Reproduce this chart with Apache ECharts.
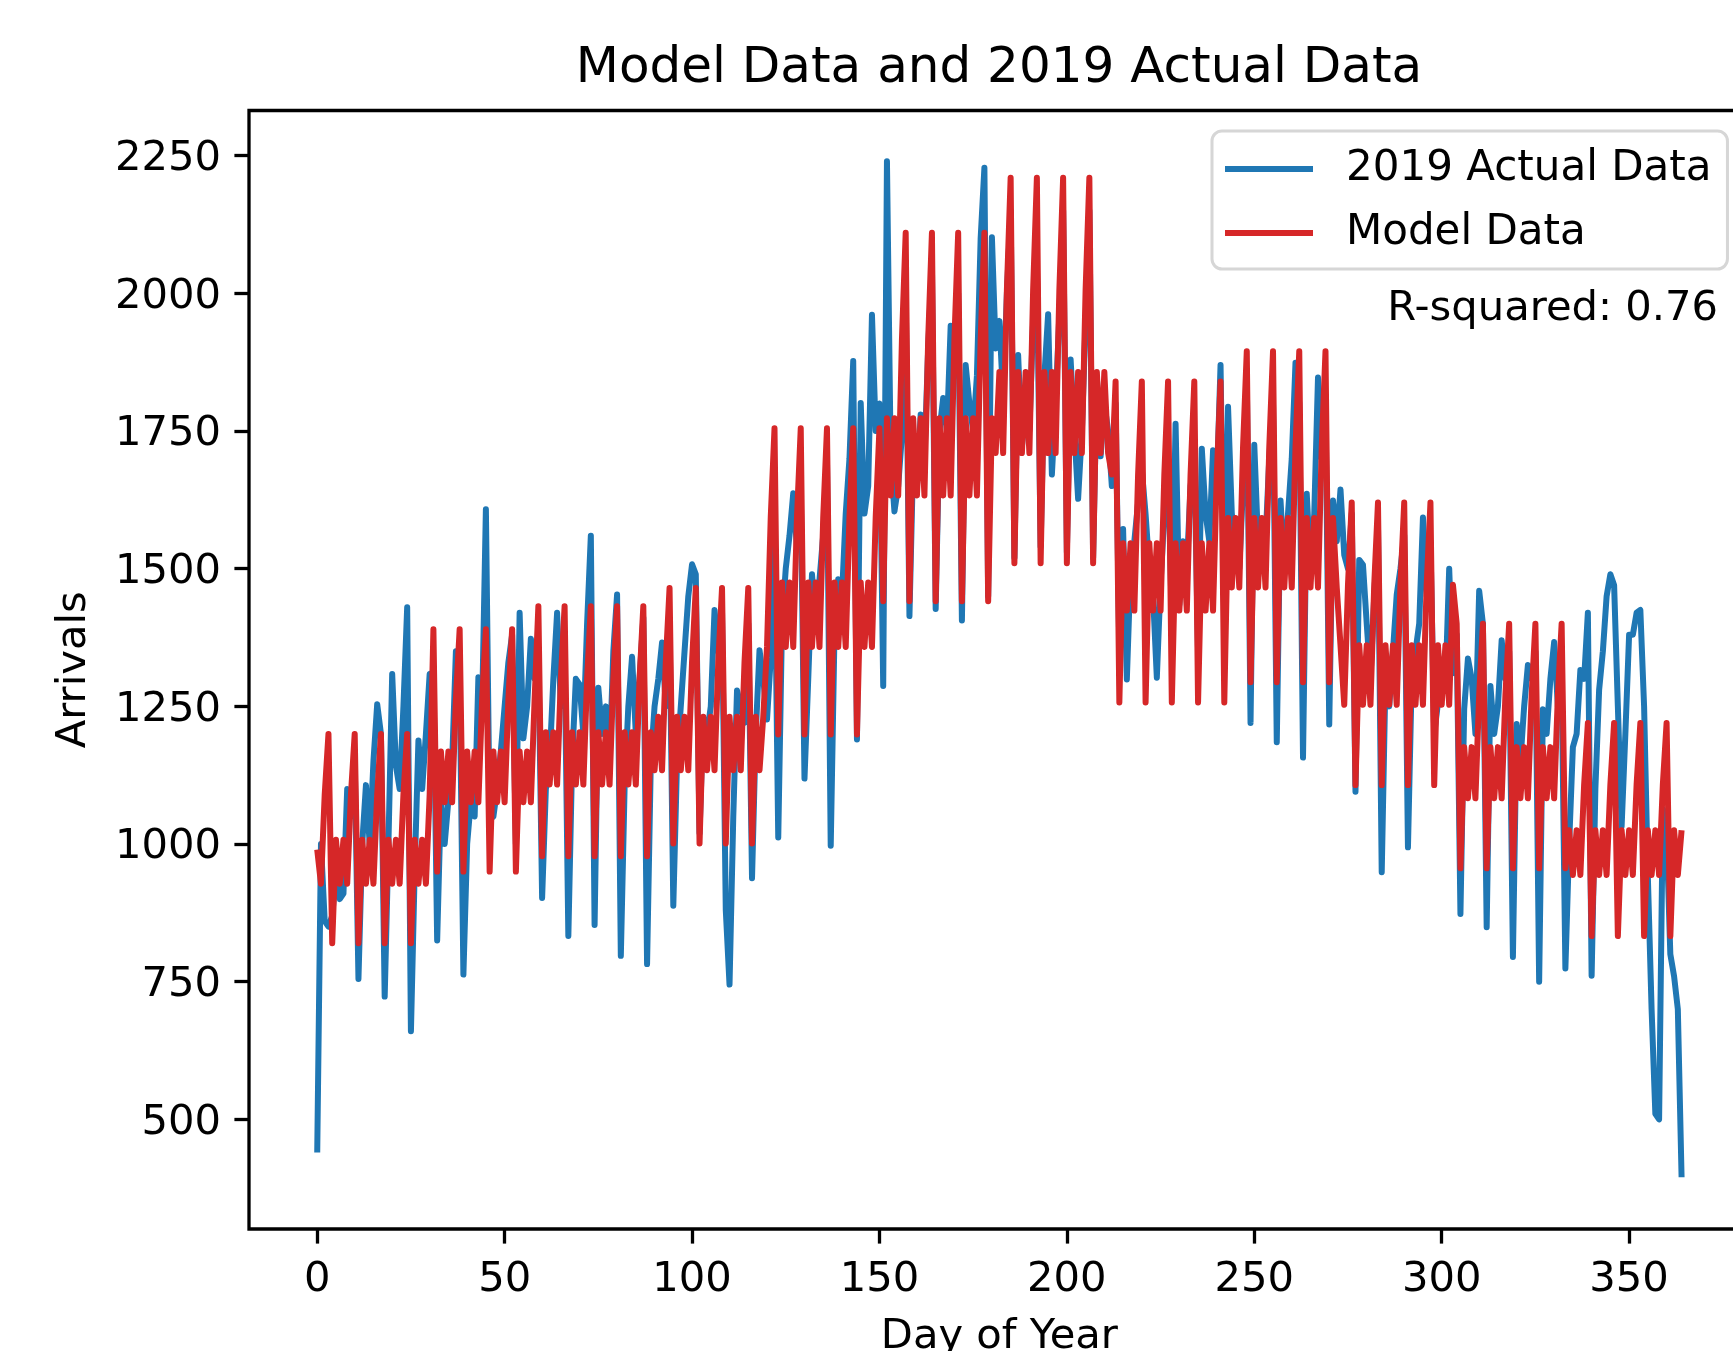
<!DOCTYPE html>
<html>
<head>
<meta charset="utf-8">
<title>Model Data and 2019 Actual Data</title>
<script src="https://cdn.jsdelivr.net/npm/echarts@6/dist/echarts.min.js"></script>
<style>
  html, body { margin: 0; padding: 0; background: #fff; }
  #main { width: 1733px; height: 1351px; }
</style>
</head>
<body>
<div id="main"></div>
<script>
// daily arrivals, day 0 = 1 Jan 2019 (one row per month)
const actual = [
  440, 1000, 860, 850, 870, 950, 900, 910, 1100, 1050, 1150, 755, 1000, 1107, 1000, 1150, 1254, 1200, 723, 1000, 1309, 1142, 1100, 1250, 1430, 660, 950, 1188, 1100, 1200, 1309,
  1311, 825, 1080, 1000, 1080, 1150, 1350, 1300, 763, 1000, 1080, 1050, 1303, 1250, 1608, 1044, 1050, 1100, 1170, 1250, 1330, 1380, 1000, 1420, 1192, 1250, 1373, 1300,
  1350, 902, 1100, 1150, 1300, 1420, 1250, 1350, 833, 1150, 1300, 1290, 1200, 1400, 1560, 853, 1284, 1200, 1250, 1150, 1350, 1453, 797, 1100, 1250, 1340, 1200, 1300, 1411, 782, 1150,
  1250, 1300, 1366, 1250, 1400, 888, 1150, 1250, 1350, 1450, 1508, 1490, 1020, 1230, 1200, 1250, 1425, 1350, 1420, 880, 745, 1050, 1279, 1250, 1220, 1400, 938, 1200, 1352, 1300,
  1226, 1338, 1550, 1012, 1400, 1500, 1560, 1637, 1536, 1650, 1119, 1300, 1490, 1400, 1480, 1561, 1700, 997, 1380, 1481, 1450, 1600, 1700, 1877, 1190, 1801, 1600, 1650, 1961, 1750, 1800,
  1287, 2240, 1700, 1604, 1650, 1743, 2000, 1414, 1700, 1650, 1780, 1700, 1900, 2050, 1427, 1750, 1810, 1750, 1941, 1850, 2000, 1406, 1870, 1800, 1750, 1850, 2100, 2228, 1450, 2102,
  1900, 1950, 1810, 2000, 2150, 1520, 1888, 1721, 1800, 1750, 1950, 2059, 1540, 1850, 1962, 1671, 1800, 1962, 2150, 1530, 1880, 1750, 1627, 1750, 1950, 2150, 1520, 1848, 1704, 1800, 1750,
  1650, 1800, 1350, 1572, 1299, 1500, 1550, 1620, 1680, 1599, 1500, 1450, 1302, 1474, 1600, 1700, 1400, 1763, 1435, 1550, 1500, 1650, 1700, 1350, 1718, 1600, 1550, 1715, 1650, 1870, 1400,
  1794, 1600, 1550, 1500, 1650, 1850, 1220, 1725, 1550, 1500, 1550, 1700, 1800, 1185, 1624, 1500, 1600, 1700, 1874, 1800, 1157, 1636, 1500, 1600, 1847, 1700, 1800, 1217, 1624, 1550,
  1644, 1525, 1500, 1600, 1095, 1516, 1507, 1400, 1300, 1450, 1580, 949, 1300, 1250, 1350, 1453, 1500, 1560, 994, 1300, 1350, 1400, 1593, 1450, 1550, 1200, 1256, 1300, 1286, 1500, 1310,
  1380, 873, 1245, 1337, 1300, 1200, 1460, 1400, 849, 1287, 1200, 1250, 1370, 1300, 1350, 795, 1218, 1150, 1250, 1325, 1300, 1350, 750, 1245, 1200, 1300, 1367, 1250, 1300, 774,
  1000, 1176, 1200, 1316, 1300, 1420, 761, 1100, 1280, 1350, 1450, 1490, 1470, 1250, 1032, 1200, 1380, 1380, 1420, 1425, 1250, 941, 700, 510, 500, 1064, 1020, 800, 760, 700, 395
];

const model = [
  990, 928, 1090, 1200, 820, 1008, 928, 1008, 928, 1090, 1200, 820, 1008, 928, 1008, 928, 1090, 1200, 820, 1008, 928, 1008, 928, 1090, 1200, 820, 1008, 928, 1008, 928, 1090,
  1390, 950, 1168, 1076, 1168, 1076, 1263, 1390, 950, 1168, 1076, 1168, 1076, 1263, 1390, 950, 1168, 1076, 1168, 1076, 1263, 1390, 950, 1168, 1076, 1168, 1076, 1263,
  1432, 978, 1203, 1108, 1203, 1108, 1300, 1432, 978, 1203, 1108, 1203, 1108, 1300, 1432, 978, 1203, 1108, 1203, 1108, 1300, 1432, 978, 1203, 1108, 1203, 1108, 1300, 1432, 978, 1203,
  1134, 1231, 1134, 1331, 1465, 1001, 1231, 1134, 1231, 1134, 1331, 1465, 1001, 1231, 1134, 1231, 1134, 1331, 1465, 1001, 1231, 1134, 1231, 1134, 1331, 1465, 1001, 1231, 1134, 1231,
  1358, 1594, 1755, 1199, 1475, 1358, 1475, 1358, 1594, 1755, 1199, 1475, 1358, 1475, 1358, 1594, 1755, 1199, 1475, 1358, 1475, 1358, 1594, 1755, 1199, 1475, 1358, 1475, 1358, 1594, 1755,
  1441, 1773, 1633, 1773, 1633, 1917, 2110, 1441, 1773, 1633, 1773, 1633, 1917, 2110, 1441, 1773, 1633, 1773, 1633, 1917, 2110, 1441, 1773, 1633, 1773, 1633, 1917, 2110, 1441, 1773,
  1710, 1857, 1710, 2007, 2210, 1510, 1857, 1710, 1857, 1710, 2007, 2210, 1510, 1857, 1710, 1857, 1710, 2007, 2210, 1510, 1857, 1710, 1857, 1710, 2007, 2210, 1510, 1857, 1710, 1857, 1710,
  1671, 1840, 1257, 1546, 1424, 1546, 1424, 1671, 1840, 1257, 1546, 1424, 1546, 1424, 1671, 1840, 1257, 1546, 1424, 1546, 1424, 1671, 1840, 1257, 1546, 1424, 1546, 1424, 1671, 1840, 1257,
  1592, 1466, 1592, 1466, 1721, 1895, 1294, 1592, 1466, 1592, 1466, 1721, 1895, 1294, 1592, 1466, 1592, 1466, 1721, 1895, 1294, 1592, 1466, 1592, 1466, 1721, 1895, 1294, 1592, 1466,
  1361, 1253, 1471, 1620, 1107, 1361, 1253, 1361, 1253, 1471, 1620, 1107, 1361, 1253, 1361, 1253, 1471, 1620, 1107, 1361, 1253, 1361, 1253, 1471, 1620, 1107, 1361, 1253, 1361, 1253, 1471,
  1400, 956, 1176, 1083, 1176, 1083, 1271, 1400, 956, 1176, 1083, 1176, 1083, 1271, 1400, 956, 1176, 1083, 1176, 1083, 1271, 1400, 956, 1176, 1083, 1176, 1083, 1271, 1400, 956,
  1025, 944, 1025, 944, 1108, 1220, 833, 1025, 944, 1025, 944, 1108, 1220, 833, 1025, 944, 1025, 944, 1108, 1220, 833, 1025, 944, 1025, 944, 1108, 1220, 833, 1025, 944, 1025
];

const xTicks = [0, 50, 100, 150, 200, 250, 300, 350];
const yTicks = [500, 750, 1000, 1250, 1500, 1750, 2000, 2250];

const blue = '#1f77b4';
const red = '#d62728';
const font = 'DejaVu Sans';

const chart = echarts.init(document.getElementById('main'));

// pair each value with its day index
const toPairs = vals => vals.map((v, i) => [i, v]);

const option = {
  animation: false,
  textStyle: { fontFamily: font },
  grid: {
    left: 249, top: 110.5, width: 1500.8, height: 1118.5,
    outerBoundsMode: 'none', containLabel: false,
    show: true, borderColor: '#000', borderWidth: 3.3,
    backgroundColor: 'transparent'
  },
  legend: {
    orient: 'vertical',
    left: 1212, top: 131,
    padding: [14, 16, 12, 13],
    itemGap: 16, itemWidth: 88, itemHeight: 6,
    icon: 'rect',
    backgroundColor: '#fff', borderColor: '#d6d6d6', borderWidth: 3, borderRadius: 10,
    textStyle: { fontSize: 42, color: '#000', fontFamily: font, lineHeight: 48, padding: [0, 0, 0, 28] },
    data: ['2019 Actual Data', 'Model Data']
  },
  xAxis: {
    type: 'value', min: -18.2, max: 382.2,
    axisLine: { show: false, onZero: false },
    splitLine: { show: false },
    axisTick: { show: true, customValues: xTicks, length: 14.6, lineStyle: { color: '#000', width: 3.3 } },
    axisLabel: { customValues: xTicks, fontSize: 41.67, color: '#000', margin: 30, fontFamily: font, formatter: v => String(v) },
    name: 'Day of Year', nameLocation: 'middle', nameGap: 87,
    nameTextStyle: { fontSize: 41.67, color: '#000', fontFamily: font }
  },
  yAxis: {
    type: 'value', min: 301, max: 2332,
    axisLine: { show: false, onZero: false },
    splitLine: { show: false },
    axisTick: { show: true, customValues: yTicks, length: 14.6, lineStyle: { color: '#000', width: 3.3 } },
    axisLabel: {
      customValues: yTicks, color: '#000', margin: 28,
      formatter: v => '{t|' + v + '}',
      rich: { t: { fontSize: 41.67, fontFamily: font, color: '#000', padding: [7, 0, 0, 0] } }
    },
    name: 'Arrivals', nameLocation: 'middle', nameGap: 154, nameRotate: 90,
    nameTextStyle: { fontSize: 41.67, color: '#000', fontFamily: font }
  },
  graphic: [
    {
      type: 'text',
      style: {
        text: 'Model Data and 2019 Actual Data',
        x: 999, y: 69,
        textAlign: 'center', textVerticalAlign: 'middle',
        fontSize: 50, fontFamily: font, fill: '#000'
      }
    },
    {
      type: 'text',
      style: {
        text: 'R-squared: 0.76',
        x: 1718, y: 309,
        textAlign: 'right', textVerticalAlign: 'middle',
        fontSize: 41.67, fontFamily: font, fill: '#000'
      }
    }
  ],
  series: [
    {
      name: '2019 Actual Data', type: 'line',
      data: toPairs(actual),
      symbol: 'none',
      lineStyle: { color: blue, width: 6, join: 'round' },
      itemStyle: { color: blue },
      z: 2
    },
    {
      name: 'Model Data', type: 'line',
      data: toPairs(model),
      symbol: 'none',
      lineStyle: { color: red, width: 6, join: 'round' },
      itemStyle: { color: red },
      z: 3
    }
  ]
};

chart.setOption(option);
</script>
</body>
</html>
